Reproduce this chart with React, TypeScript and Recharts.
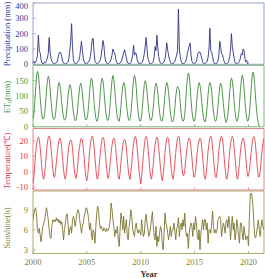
import React from 'react';
import { LineChart, Line, XAxis, YAxis, ReferenceArea } from 'recharts';

const X_MIN = 2000;
const X_MAX = 2021.44;
const xTicks = [2000, 2005, 2010, 2015, 2020];

const precipTicks = [0, 100, 200, 300, 400];
const et0Ticks = [0, 50, 100, 150];
const tempTicks = [-10, 0, 10, 20];
const sunTicks = [3, 6, 9];

// Monthly values, Jan 2000 onwards
const precipitation = [
  10, 20, 8, 15, 30, 60, 190, 85, 75, 30, 8, 3,
  5, 15, 10, 25, 40, 70, 175, 80, 40, 20, 10, 5,
  5, 8, 10, 20, 45, 70, 80, 75, 50, 20, 8, 3,
  3, 5, 10, 15, 40, 90, 150, 265, 110, 30, 10, 5,
  5, 10, 15, 25, 50, 100, 150, 90, 40, 15, 5, 3,
  5, 10, 15, 30, 50, 110, 165, 170, 80, 20, 10, 5,
  5, 10, 20, 30, 60, 110, 155, 120, 50, 20, 8, 5,
  5, 10, 20, 35, 60, 100, 80, 75, 40, 15, 5, 3,
  3, 8, 15, 30, 55, 75, 95, 70, 40, 15, 5, 3,
  5, 10, 30, 60, 125, 60, 75, 70, 30, 15, 5, 3,
  5, 10, 15, 40, 70, 120, 175, 100, 40, 20, 5, 3,
  5, 10, 20, 50, 115, 90, 190, 110, 50, 20, 8, 3,
  5, 10, 15, 35, 80, 140, 95, 60, 30, 15, 5, 3,
  5, 10, 20, 40, 60, 90, 360, 100, 50, 20, 5, 3,
  5, 10, 15, 40, 70, 100, 120, 140, 60, 20, 8, 3,
  5, 10, 20, 50, 75, 80, 80, 60, 40, 15, 5, 3,
  5, 10, 20, 45, 100, 235, 90, 80, 50, 20, 5, 3,
  5, 10, 20, 60, 150, 110, 70, 60, 40, 15, 5, 3,
  5, 10, 20, 50, 90, 200, 115, 80, 40, 15, 5, 3,
  5, 10, 20, 40, 70, 60, 100, 90, 40, 15, 25, 3,
];

const et0 = [
  25, 40, 80, 125, 165, 180, 170, 140, 95, 60, 35, 25,
  28, 42, 75, 115, 150, 164, 155, 128, 88, 55, 32, 24,
  26, 38, 68, 102, 132, 144, 136, 112, 78, 50, 30, 22,
  24, 36, 65, 98, 125, 137, 130, 108, 75, 48, 28, 20,
  22, 38, 68, 100, 130, 142, 135, 110, 76, 48, 28, 22,
  25, 40, 72, 112, 145, 158, 150, 122, 82, 50, 28, 18,
  22, 38, 72, 112, 146, 158, 148, 120, 80, 50, 28, 20,
  24, 40, 75, 118, 152, 167, 155, 125, 85, 52, 30, 22,
  18, 35, 68, 105, 132, 144, 138, 112, 78, 50, 28, 20,
  24, 40, 78, 120, 155, 167, 158, 128, 85, 52, 28, 18,
  20, 35, 68, 108, 138, 150, 142, 116, 80, 50, 28, 20,
  22, 36, 66, 102, 130, 142, 135, 110, 76, 48, 26, 18,
  20, 35, 68, 104, 132, 144, 136, 112, 78, 48, 26, 16,
  18, 32, 62, 98, 122, 131, 125, 120, 75, 45, 25, 18,
  22, 38, 78, 125, 160, 175, 165, 132, 88, 52, 28, 18,
  20, 36, 70, 105, 132, 144, 136, 112, 78, 48, 26, 16,
  18, 35, 68, 104, 132, 144, 138, 114, 78, 48, 28, 18,
  20, 36, 66, 100, 130, 142, 135, 110, 76, 46, 24, 14,
  20, 38, 72, 112, 145, 158, 150, 122, 82, 50, 28, 18,
  22, 40, 76, 118, 152, 167, 158, 128, 85, 52, 28, 18,
  22, 42, 80, 125, 162, 178, 168, 135, 90, 55, 28, 15,
  0,
];

const temperature = [
  -8, -4, 5, 12, 18, 21, 22.3, 21, 15.5, 9, 1, -3,
  -5, -1, 5, 13, 18.5, 22, 23.2, 21.5, 16, 9, 2, -3,
  -3.8, 0, 6, 12, 17, 20.5, 21.7, 20.5, 15, 8.5, 1.5, -3.5,
  -5, -1.5, 5, 11.5, 16.5, 19.5, 20.6, 19.8, 15, 8, 1, -3,
  -4.5, -0.5, 5.5, 12.5, 17, 20.5, 21.7, 20.5, 15.5, 8.5, 1.5, -4,
  -6, -2, 5, 13, 18, 22, 23, 21.5, 16, 9, 2, -4,
  -5, -1, 5.5, 12.5, 17.5, 21.5, 22.3, 21, 15.5, 9, 2, -3.5,
  -4.5, 0, 6, 12, 17, 20.5, 21.7, 21, 15.5, 9, 1.5, -3.5,
  -5, -1, 6, 12.5, 17, 20, 21, 20, 15, 8.5, 1.5, -3,
  -5, -0.5, 5.5, 13, 18, 22, 22.8, 21, 15.5, 8.5, 1, -4,
  -8, -3, 4, 11, 17, 21.5, 22.8, 21.5, 16, 9, 2, -3.5,
  -5, -1, 5, 12.5, 17.5, 21, 22.3, 21, 15.5, 9, 2, -3.5,
  -6, -2, 4.5, 12.5, 17.5, 21.5, 22.3, 21, 15, 8.5, 1.5, -3,
  -5, -1, 5.5, 12.5, 18, 22, 23, 22, 16, 9, 2, -2.5,
  -2.5, 0.5, 6.5, 13, 17.5, 20.5, 21.7, 20.5, 15, 9, 2, -3.5,
  -3.5, 0, 6, 13, 17.5, 20.5, 21.7, 21, 15.5, 9, 2, -4,
  -5, -1, 6, 13.5, 18, 22, 23, 21.5, 16, 9, 1.5, -3,
  -4, 0, 6, 13.5, 18.5, 22, 23, 21.5, 16, 8.5, 1.5, -4,
  -5, -1.5, 6, 13, 18, 21.5, 22.8, 21.5, 15.5, 9, 2, -4,
  -5, -0.5, 6, 12.5, 17.5, 20.5, 21.7, 20.5, 15.5, 9, 2, -3,
  -3, 0.5, 6.5, 12.5, 18, 21.5, 22.8, 21.5, 16, 9, 1.5, -3.5,
  -3.5, 0, 6.5, 13, 18, 21.5,
];

const sunshine = [
  7.5, 8.5, 9, 9.3, 8, 6, 5.5, 6.2, 5.2, 4.2, 5.5, 6.5,
  7, 7.5, 8.5, 9.3, 8.5, 7.5, 6, 5, 4.7, 6.5, 7.5, 7.2,
  7.5, 7.2, 7.8, 7.3, 7.6, 7, 7.4, 6.8, 7.2, 6, 4.5, 6,
  7, 8, 8.4, 7, 5.2, 6, 6.5, 5.5, 7.5, 8, 7.5, 6.5,
  7.5, 8.5, 9, 8.8, 7.5, 6.5, 5.5, 6.5, 7, 8, 8.5, 9.3,
  9.2, 8.5, 7.5, 6, 7, 5.5, 4.5, 6, 5.5, 4, 6.5, 8.5,
  9.5, 9, 7, 6.2, 6.5, 6, 5.8, 6.3, 6, 5.7, 6.2, 5.8,
  6, 6.5, 7.5, 10, 9, 7.5, 6.5, 5, 6, 5.5, 6.5, 4.5,
  3.5, 6, 8.5, 7.5, 6, 8, 5.5, 6.5, 7.5, 5, 4.5, 6.5,
  7.5, 9, 8, 6, 5.5, 5, 6.5, 7, 6, 5.5, 6, 5.8,
  5.2, 7.5, 6, 5, 5.5, 7.5, 8.3, 7, 6, 5, 5.5, 6.5,
  7.5, 8.7, 6.5, 5, 4.5, 6.5, 3.5, 5, 4.2, 5.5, 6.5, 6,
  4, 3, 5.5, 8.5, 7, 6.5, 5.5, 4.5, 5.5, 6.5, 5, 6,
  6, 7, 5.8, 4.5, 6.2, 6.5, 7.8, 5, 6.5, 7, 6, 7.5,
  6.5, 8.5, 6, 5, 5.5, 3.2, 5.5, 6.5, 7, 6.5, 5, 7,
  6, 8, 7, 5, 4.5, 6, 3, 5.5, 6.5, 7.5, 6, 7.5,
  7.5, 6, 7, 4, 6, 6, 5.5, 7, 8.8, 6.5, 5.5, 6,
  5.5, 6, 7.5, 7.8, 8, 7.5, 5, 6, 7, 6.5, 5.5, 7.2,
  7.5, 6.3, 8, 7, 4.5, 6.5, 8, 6, 7, 4.5, 5.5, 7.5,
  6.5, 5, 4, 7, 7, 5.5, 4.5, 6.5, 5.5, 4.5, 5, 5,
  3.6, 8, 11.2, 11.5, 11, 9.5, 7, 5, 4.8, 5.5, 6.5, 7.5,
  6, 5, 6.5, 7.5, 6.5, 6,
];

const toRows = (values: number[]) => values.map((v, i) => ({ x: X_MIN + i / 12, v }));

const FONT = '"Liberation Serif", "Times New Roman", serif';
const W = 265;
const H = 279;

type PanelProps = {
  values: number[];
  frameColor: string;
  lineColor: string;
  textColor: string;
  top: number;
  height: number;
  domain: [number, number];
  ticks: number[];
  showXLabels: boolean;
};

function Panel({ values, frameColor, lineColor, textColor, top, height, domain, ticks, showXLabels }: PanelProps) {
  const data = toRows(values);
  const xTick = (props: any) => {
    const { x, y, payload } = props;
    return (
      <g>
        <line x1={x} x2={x} y1={y} y2={y - 2.5} stroke={frameColor} strokeWidth={0.8} />
        {showXLabels ? (
          <text x={x} y={y + 11.5} textAnchor="middle" fill={textColor} fontSize={8.5} fontFamily={FONT}>
            {payload.value}
          </text>
        ) : null}
      </g>
    );
  };
  const yTick = (props: any) => {
    const { x, y, payload } = props;
    return (
      <g>
        <line x1={x + 5} x2={x + 7.5} y1={y} y2={y} stroke={frameColor} strokeWidth={0.8} />
        <text x={x} y={Math.max(y + 3, 9)} textAnchor="end" fill={textColor} fontSize={8.5} fontFamily={FONT}>
          {payload.value}
        </text>
      </g>
    );
  };
  return (
    <div style={{ position: 'absolute', left: 0, top: 0 }}>
      <LineChart
        width={W}
        height={H}
        data={data}
        margin={{ top, right: 1, bottom: H - top - height, left: 0 }}
      >
        <XAxis
          dataKey="x"
          type="number"
          domain={[X_MIN, X_MAX]}
          ticks={xTicks}
          interval={0}
          height={1}
          tickSize={0}
          tickMargin={0}
          axisLine={false}
          tickLine={false}
          tick={xTick}
          allowDataOverflow
        />
        <YAxis
          type="number"
          domain={domain}
          ticks={ticks}
          interval={0}
          width={33}
          tickSize={0}
          tickMargin={5}
          axisLine={false}
          tickLine={false}
          tick={yTick}
          allowDataOverflow
        />
        <ReferenceArea
          x1={X_MIN}
          x2={X_MAX}
          y1={domain[0]}
          y2={domain[1]}
          fill="none"
          stroke={frameColor}
          strokeWidth={0.9}
        />
        <Line
          dataKey="v"
          stroke={lineColor}
          strokeWidth={0.9}
          dot={false}
          isAnimationActive={false}
        />
      </LineChart>
    </div>
  );
}

export default function App() {
  return (
    <div style={{ position: 'absolute', left: 0, top: 0, width: W, height: H, background: '#fff' }}>
      <Panel values={precipitation} frameColor="#8f93c4" lineColor="#2f3380" textColor="#2e3592"
        top={3} height={62.3} domain={[0, 400]} ticks={precipTicks} showXLabels={false} />
      <Panel values={et0} frameColor="#6fae6a" lineColor="#3f8a3a" textColor="#3d973d"
        top={65.3} height={62.5} domain={[0, 200]} ticks={et0Ticks} showXLabels={false} />
      <Panel values={temperature} frameColor="#e8737a" lineColor="#e5434e" textColor="#e0303c"
        top={128.5} height={62.5} domain={[-12, 28]} ticks={tempTicks} showXLabels={false} />
      <Panel values={sunshine} frameColor="#a6a060" lineColor="#7a7530" textColor="#8a7f2a"
        top={191} height={63.5} domain={[2.45, 11.8]} ticks={sunTicks} showXLabels={true} />
      <svg width={W} height={H} style={{ position: 'absolute', left: 0, top: 0, pointerEvents: 'none' }}>
        <text transform="translate(10,34) rotate(-90)" textAnchor="middle" fill="#2e3592" fontSize={8.5} fontFamily={FONT}>
          Precipitation (mm)
        </text>
        <text transform="translate(10,97) rotate(-90)" textAnchor="middle" fill="#3d973d" fontSize={8.5} fontFamily={FONT}>
          ET<tspan fontSize={6} dy={2}>0</tspan><tspan dy={-2}>(mm)</tspan>
        </text>
        <text transform="translate(10,161) rotate(-90)" textAnchor="middle" fill="#e0303c" fontSize={8.5} fontFamily={FONT}>
          Temperature(℃)
        </text>
        <text transform="translate(10,228) rotate(-90)" textAnchor="middle" fill="#8a7f2a" fontSize={8.5} fontFamily={FONT}>
          Sunshine(h)
        </text>
        <text x={149} y={277} textAnchor="middle" fill="#333" fontSize={8.5} fontWeight="bold" fontFamily={FONT}>
          Year
        </text>
      </svg>
    </div>
  );
}
